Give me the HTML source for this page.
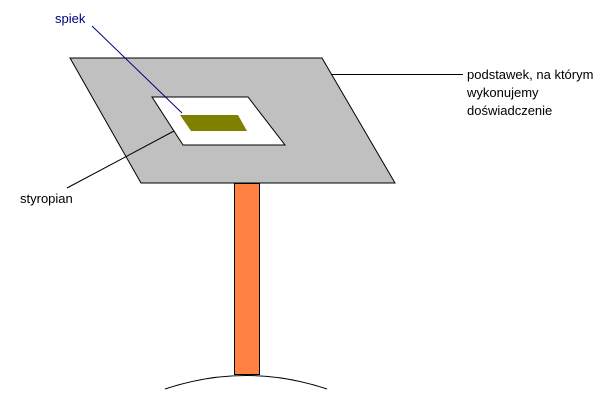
<!DOCTYPE html>
<html><head><meta charset="utf-8"><style>
html,body{margin:0;padding:0;background:#fff;width:609px;height:408px;overflow:hidden}
svg{display:block}
text{font-family:"Liberation Sans","DejaVu Sans",sans-serif;font-size:13px}
</style></head><body>
<svg width="609" height="408" viewBox="0 0 609 408" xmlns="http://www.w3.org/2000/svg">
<polygon points="70,58 322,58 395,183 141,183" fill="#c0c0c0" stroke="#000" stroke-width="1"/>
<polygon points="152,97 248,97 285,145 183,145" fill="#fff" stroke="#000" stroke-width="1"/>
<polygon points="180,115 238,115 247,131 191,131" fill="#808000"/>
<rect x="234.5" y="183.5" width="25" height="191" fill="#ff8040" stroke="#000" stroke-width="1"/>
<path d="M165,389 Q246,362 327,389" fill="none" stroke="#000" stroke-width="1"/>
<line x1="92" y1="26" x2="182" y2="113" stroke="#000080" stroke-width="1"/>
<line x1="331" y1="74.5" x2="463" y2="74.5" stroke="#000" stroke-width="1"/>
<line x1="174" y1="131" x2="67" y2="188" stroke="#000" stroke-width="1"/>
<text x="55" y="23" fill="#000080">spiek</text>
<text x="20" y="203" fill="#000">styropian</text>
<text x="467" y="79" fill="#000">podstawek, na którym</text>
<text x="467" y="97" fill="#000">wykonujemy</text>
<text x="467" y="115" fill="#000">doświadczenie</text>
</svg>
</body></html>
